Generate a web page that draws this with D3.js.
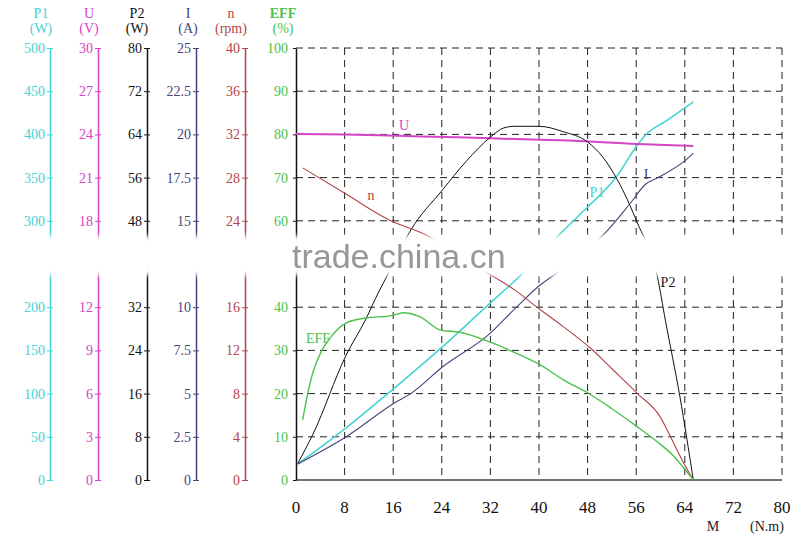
<!DOCTYPE html>
<html>
<head>
<meta charset="utf-8">
<script src="https://cdn.jsdelivr.net/npm/d3@7"></script>
<style>
  body { margin: 0; background: #fff; }
  svg { display: block; font-family: 'Liberation Serif', 'DejaVu Serif', serif; }
</style>
</head>
<body>
<div class="chart"></div>
<script>
// axis definitions (left side, in drawing order)
const axisNames = ['P1', 'U', 'P2', 'I', 'n', 'EFF'];
const axisUnits = ['(W)', '(V)', '(W)', '(A)', '(rpm)', '(%)'];
const axisMax = [500, 30, 80, 25, 40, 100];
const torqueTicks = [0, 8, 16, 24, 32, 40, 48, 56, 64, 72, 80];

// curves: [torque N.m, value]
const p1Data = [[0.3, 18.5], [8.2, 60], [16.4, 107.6], [24.1, 154], [32, 205], [37, 237], [43.5, 285],
    [48, 316], [52.6, 349.5], [56.2, 387.7], [57.5, 399], [61, 416], [65.4, 437.5]];
const uData = [[0, 24.03], [8, 24.0], [16.9, 23.9], [26.6, 23.8], [37.5, 23.66], [43.5, 23.6],
    [56.2, 23.33], [65.4, 23.2]];
const p2Data = [[0.3, 3.1], [2.8, 8.5], [8.2, 23], [11.5, 29.8], [13.6, 34.8], [15.1, 38], [18.9, 46.3],
    [24.1, 53.7], [28, 59], [32, 63.5], [34.2, 65.2], [36, 65.5], [40, 65.5], [44, 64.5], [48, 62.6],
    [50.5, 59.8], [52.9, 55.6], [56.2, 47.6], [59.5, 37.6], [60.8, 29.6], [63.2, 15.4], [65.4, 0]];
const iData = [[0.3, 0.93], [8.2, 2.49], [16.4, 4.5], [18.9, 5.0], [24.1, 6.54], [32, 8.5], [36, 9.9],
    [39.9, 11.2], [43, 12.0], [47, 13.2], [50.6, 14.2], [55, 16.0], [57.5, 17.1], [59.6, 17.5],
    [64.1, 18.5], [65.4, 18.9]];
const nData = [[1.1, 28.9], [7.9, 26.6], [15.6, 24.0], [21, 22.8], [32, 19.0], [36, 17.6], [39.9, 15.9],
    [44, 14.2], [48.5, 12.2], [52, 10.3], [56.2, 8.0], [60, 5.8], [61.3, 4.4], [63.7, 1.7], [65.4, 0]];
const effData = [[1.1, 13.9], [2, 20.5], [2.8, 25], [4.1, 29.6], [5.7, 33], [8.2, 36.3], [11.5, 37.5],
    [15.6, 38], [17.7, 38.7], [20.5, 37.7], [23.8, 34.7], [27, 34.2], [32, 31.9], [36, 29.5],
    [40, 26.8], [44, 23.2], [48, 20.2], [52, 16.5], [56.2, 12.3], [59.5, 8.8], [62, 5.8],
    [63.7, 3.0], [65.4, 0]];

const colors = ['#45d3d3', '#d544c6', '#111111', '#45457a', '#b34545', '#4cc24c'];
const axisX = [50, 98, 147, 196, 245, 296];
const headerX = [41, 89, 137, 188, 231, 283];

const svg = d3.select('.chart').append('svg').attr('width', 800).attr('height', 536);
svg.append('rect').attr('width', 800).attr('height', 536).attr('fill', '#fff');

const plot = { left: 296, right: 782, top: 48, bottom: 480 };
const x = d3.scaleLinear().domain([0, 80]).range([plot.left, plot.right]);
const yScales = axisMax.map(function (m) {
    return d3.scaleLinear().domain([0, m]).range([plot.bottom, plot.top]);
});

// dashed grid
const grid = svg.append('g').attr('stroke', '#222').attr('stroke-width', 1).attr('stroke-dasharray', '7,5');
grid.selectAll('.h').data(d3.range(1, 11)).enter().append('line')
    .attr('x1', plot.left).attr('x2', plot.right)
    .attr('y1', function (d) { return yScales[5](d * 10); })
    .attr('y2', function (d) { return yScales[5](d * 10); });
grid.selectAll('.v').data(torqueTicks.slice(1)).enter().append('line')
    .attr('y1', plot.top).attr('y2', plot.bottom)
    .attr('x1', function (d) { return x(d); })
    .attr('x2', function (d) { return x(d); });

// bottom line
svg.append('line').attr('x1', plot.left).attr('x2', plot.right)
    .attr('y1', plot.bottom).attr('y2', plot.bottom)
    .attr('stroke', '#444').attr('stroke-width', 1.5);

// left axes
axisMax.forEach(function (m, i) {
    const ticks = d3.range(11).map(function (k) { return m * k / 10; });
    const axis = d3.axisLeft(yScales[i]).tickValues(ticks)
        .tickFormat(function (d) { return +d.toFixed(1); })
        .tickSizeInner(3).tickSizeOuter(0).tickPadding(i === 5 ? 5 : 2);
    const g = svg.append('g').attr('transform', 'translate(' + axisX[i] + ',0)').call(axis);
    g.select('.domain').attr('stroke', i === 5 ? '#111' : colors[i]).attr('stroke-width', 1.5);
    g.selectAll('.tick line').attr('stroke', i === 5 ? '#111' : colors[i])
        .attr('x1', i === 5 ? 0 : 3);
    g.selectAll('.tick text').attr('fill', colors[i])
        .style('font-family', "'Liberation Serif', serif").style('font-size', '14px');

    svg.append('text').attr('x', headerX[i]).attr('y', 18).attr('text-anchor', 'middle')
        .attr('fill', colors[i]).style('font-size', '14px')
        .style('font-weight', i === 5 ? 'bold' : 'normal').text(axisNames[i]);
    svg.append('text').attr('x', headerX[i]).attr('y', 33).attr('text-anchor', 'middle')
        .attr('fill', colors[i]).style('font-size', '14px').text(axisUnits[i]);
});

// x tick labels
svg.append('g').selectAll('text').data(torqueTicks).enter().append('text')
    .attr('x', function (d) { return x(d); }).attr('y', 513)
    .attr('text-anchor', 'middle').style('font-size', '17px').attr('fill', '#111')
    .text(function (d) { return d; });
svg.append('text').attr('x', 713).attr('y', 531).attr('text-anchor', 'middle')
    .style('font-size', '14px').attr('fill', '#222').text('M');
svg.append('text').attr('x', 767).attr('y', 531).attr('text-anchor', 'middle')
    .style('font-size', '14px').attr('fill', '#222').text('(N.m)');

// curves
const series = [
    { data: p1Data, axis: 0, width: 1.6 },
    { data: uData, axis: 1, width: 2 },
    { data: p2Data, axis: 2, width: 1 },
    { data: iData, axis: 3, width: 1.1 },
    { data: nData, axis: 4, width: 1.1 },
    { data: effData, axis: 5, width: 1.4 }
];
series.forEach(function (s) {
    const line = d3.line()
        .x(function (d) { return x(d[0]); })
        .y(function (d) { return yScales[s.axis](d[1]); })
        .curve(d3.curveMonotoneX);
    svg.append('path').datum(s.data).attr('d', line)
        .attr('fill', 'none').attr('stroke', colors[s.axis]).attr('stroke-width', s.width);
});

// curve labels
const curveLabels = [
    { t: 'U', x: 404, y: 130, c: 1 },
    { t: 'n', x: 371, y: 200, c: 4 },
    { t: 'P1', x: 597, y: 197, c: 0 },
    { t: 'I', x: 646, y: 179, c: 3 },
    { t: 'P2', x: 668, y: 287, c: 2 },
    { t: 'EFF', x: 318, y: 343, c: 5 }
];
svg.append('g').selectAll('text').data(curveLabels).enter().append('text')
    .attr('x', function (d) { return d.x; }).attr('y', function (d) { return d.y; })
    .attr('text-anchor', 'middle').style('font-size', '14px')
    .attr('fill', function (d) { return colors[d.c]; })
    .text(function (d) { return d.t; });

// watermark band
const defs = svg.append('defs');
defs.append('filter').attr('id', 'blur').attr('x', '-5%').attr('y', '-50%').attr('width', '110%').attr('height', '200%')
    .append('feGaussianBlur').attr('stdDeviation', 2.5);
svg.append('rect').attr('x', -10).attr('y', 236).attr('width', 820).attr('height', 39)
    .attr('fill', '#fff').attr('filter', 'url(#blur)');
svg.append('text').attr('x', 292).attr('y', 268)
    .style('font-family', "'Liberation Sans', Arial, sans-serif").style('font-size', '34px')
    .attr('fill', '#8c8c8c').attr('opacity', 0.9).text('trade.china.cn');
</script>
</body>
</html>
